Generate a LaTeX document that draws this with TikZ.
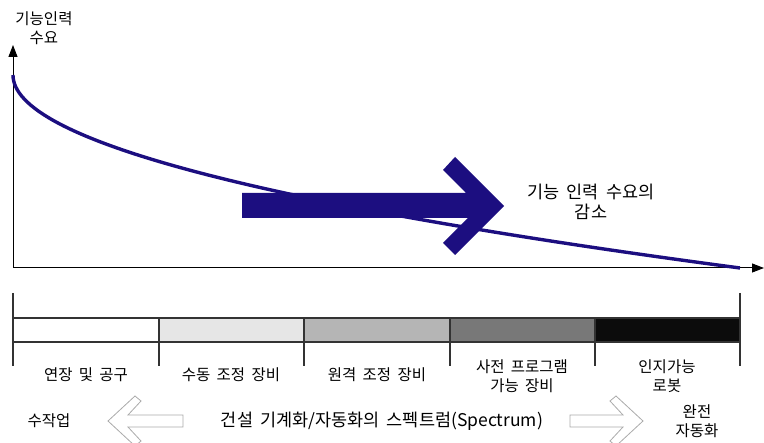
\documentclass[tikz,border=0pt]{standalone}
\usepackage{fontspec}
\setmainfont[WordSpace=1.8]{Noto Sans CJK KR}
\usetikzlibrary{arrows.meta}
\definecolor{navy}{RGB}{28,14,128}
\definecolor{segB}{RGB}{230,230,230}
\definecolor{segC}{RGB}{181,181,181}
\definecolor{segD}{RGB}{120,120,120}
\definecolor{segE}{RGB}{12,12,12}
\definecolor{hollow}{RGB}{170,170,170}
\begin{document}
\begin{tikzpicture}[x=1pt,y=-1pt,
  lbl/.style={font=\fontsize{15.5}{19}\selectfont, align=center, inner sep=0pt},
  biglbl/.style={font=\fontsize{17.5}{20}\selectfont, align=center, inner sep=0pt},
  axisline/.style={line width=1pt, black, -{Triangle[length=12pt,width=9pt]}},
  demand/.style={line width=3.4pt, navy},
  bigarrow/.style={fill=navy, draw=none},
  seg/.style={draw=black!80, line width=1.1pt},
  tick/.style={draw=black!80, line width=1.1pt},
  hollowarrow/.style={draw=hollow, line width=0.8pt, fill=white}]
\useasboundingbox (0,0) rectangle (764,443);
\clip (0,0) rectangle (764,443);

% axes
\coordinate (O) at (13,268);
\coordinate (Ytop) at (13,45);
\coordinate (Xend) at (764,268);
\draw[axisline] (O) -- (Ytop);
\draw[axisline] (O) -- (Xend);
\node[lbl] (ylabel) at (44,28) {기능인력\\수요};

% demand curve
\coordinate (c0) at (13,75);
\coordinate (c1) at (740,268);
\draw[demand] (c0) .. controls (13,139.3) and (255.3,203.7) .. (c1);

% big arrow
\path[bigarrow] (242,193) -- (466,193) -- (443,170) -- (455,157) -- (504,206)
  -- (455,255) -- (443,243) -- (468,218) -- (242,218) -- cycle;
\node[biglbl] (decr) at (591,202) {기능 인력 수요의\\감소};

% spectrum bar
\coordinate (bl) at (13,293);
\coordinate (br) at (740,293);
\coordinate (blt) at (13,318);
\coordinate (brt) at (740,318);
\draw[tick] (bl) -- (blt);
\draw[tick] (br) -- (brt);
\draw[seg, fill=white] (13,318) rectangle (159,342);
\draw[seg, fill=segB] (159,318) rectangle (304,342);
\draw[seg, fill=segC] (304,318) rectangle (450,342);
\draw[seg, fill=segD] (450,318) rectangle (595,342);
\draw[seg, fill=segE] (595,318) rectangle (740,342);
\foreach \x in {13,159,304,450,595,740}{
  \draw[tick] (\x,342) -- (\x,366);
}
\node[lbl] (s1) at (86,375) {연장 및 공구};
\node[lbl] (s2) at (231,375) {수동 조정 장비};
\node[lbl] (s3) at (377,375) {원격 조정 장비};
\node[lbl] (s4) at (522,376) {사전 프로그램\\가능 장비};
\node[lbl] (s5) at (667,376) {인지가능\\로봇};

% bottom row
\node[lbl] (manual) at (49,421) {수작업};
\draw[hollowarrow] (108,421) -- (135,396) -- (141,401) -- (128,415) -- (183,415)
  -- (183,427) -- (128,427) -- (141,441) -- (135,446) -- cycle;
\node[biglbl] (spec) at (382,421) {건설 기계화/자동화의 스펙트럼(Spectrum)};
\draw[hollowarrow] (643,421) -- (616,396) -- (610,401) -- (623,415) -- (570,415)
  -- (570,427) -- (623,427) -- (610,441) -- (616,446) -- cycle;
\node[lbl] (auto) at (697,421) {완전\\자동화};
\end{tikzpicture}
\end{document}
